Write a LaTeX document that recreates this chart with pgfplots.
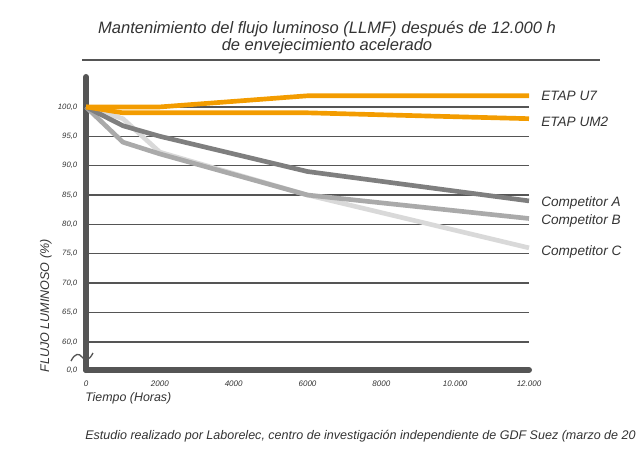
\documentclass[border=0pt]{standalone}
\usepackage{pgfplots}
\pgfplotsset{compat=1.18}
\usepackage{fontspec}
\setmainfont{Liberation Sans}
\definecolor{etap}{HTML}{F39C00}
\definecolor{compA}{HTML}{7F7F7F}
\definecolor{compB}{HTML}{AAAAAA}
\definecolor{compC}{HTML}{D9D9D9}
\definecolor{axisgray}{HTML}{555555}
\definecolor{txt}{HTML}{333333}
\begin{document}
\begin{tikzpicture}
\begin{scope}[x=0.75pt,y=-0.75pt]
\path[use as bounding box] (0,0) rectangle (641,466);
\end{scope}
\begin{axis}[
  at={(64.5pt,-277.5pt)}, anchor=south west, scale only axis,
  width=332.25pt, height=219.75pt,
  xmin=0, xmax=12000, ymin=55.2, ymax=105.1,
  separate axis lines,
  axis x line*=bottom, axis y line*=left,
  x axis line style={-, line width=4.5pt, color=axisgray, line cap=round},
  y axis line style={-, line width=4.5pt, color=axisgray, line cap=round},
  major tick length=0pt,
  scaled x ticks=false,
  xtick={0,2000,4000,6000,8000,10000,12000},
  xticklabels={0,2000,4000,6000,8000,10.000,12.000},
  ytick={55.2,60,65,70,75,80,85,90,95,100},
  yticklabels={{0,0},{60,0},{65,0},{70,0},{75,0},{80,0},{85,0},{90,0},{95,0},{100,0}},
  xticklabel style={font=\itshape\fontsize{6}{7}\selectfont, text=txt, yshift=-4.5pt},
  yticklabel style={font=\itshape\fontsize{5.8}{7}\selectfont, text=txt, xshift=-3pt},
  ymajorgrids,
  grid style={line width=1.1pt, color=axisgray},
  clip=false,
]
\addplot[compC, line width=3.5pt, line join=round] coordinates {(0,100) (1000,98) (2000,92.3) (6000,85) (12000,76)};
\addplot[compB, line width=3.5pt, line join=round] coordinates {(0,100) (1000,94) (2000,92) (6000,85) (12000,81)};
\addplot[compA, line width=3.5pt, line join=round] coordinates {(0,100) (1000,96.8) (2000,95) (6000,89) (12000,84)};
\addplot[etap, line width=3.5pt, line join=round] coordinates {(0,100) (1000,99) (6000,99) (12000,98)};
\addplot[etap, line width=3.5pt, line join=round] coordinates {(0,100) (2000,100) (6000,101.9) (12000,101.9)};
\end{axis}
\begin{scope}[x=0.75pt,y=-0.75pt]
% axis break mark
\draw[axisgray, line width=1pt] (71,361) .. controls (75,353) and (79,353) .. (82,357) .. controls (85,361) and (89,361) .. (93,353);
% title
\node[font=\itshape\fontsize{12.4}{12.9}\selectfont, text=txt, align=center] at (327,38) {Mantenimiento del flujo luminoso (LLMF) después de 12.000 h\\de envejecimiento acelerado};
\draw[axisgray, line width=1.5pt] (82,60) -- (600,60);
% series labels
\begin{scope}[every node/.style={font=\itshape\fontsize{10.2}{12}\selectfont, text=txt, anchor=west, inner sep=0pt}]
\node at (541,96) {ETAP U7};
\node at (541,122) {ETAP UM2};
\node at (541,203) {Competitor A};
\node at (541,221) {Competitor B};
\node at (541,252) {Competitor C};
\end{scope}
% axis labels
\node[font=\itshape\fontsize{9.4}{11}\selectfont, text=txt, rotate=90, inner sep=0pt] at (46,306) {FLUJO LUMINOSO (\%)};
\node[font=\itshape\fontsize{9.3}{11}\selectfont, text=txt, anchor=west, inner sep=0pt] at (85,398) {Tiempo (Horas)};
\node[font=\itshape\fontsize{9.4}{11}\selectfont, text=txt, anchor=west, inner sep=0pt] at (85,436) {Estudio realizado por Laborelec, centro de investigación independiente de GDF Suez (marzo de 20};
\end{scope}
\end{tikzpicture}
\end{document}
